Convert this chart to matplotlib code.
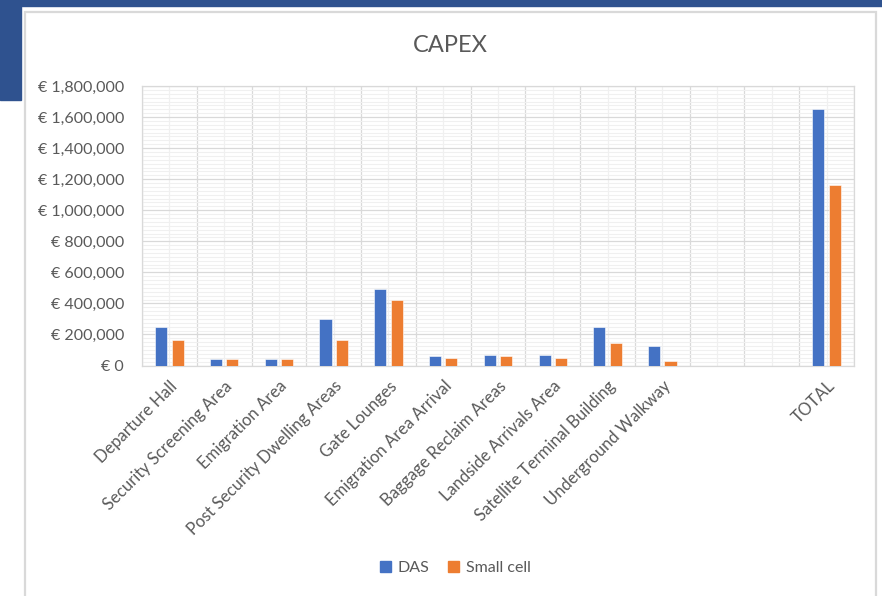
import numpy as np
import matplotlib
matplotlib.use("Agg")
import matplotlib.pyplot as plt
from matplotlib.patches import Rectangle, Patch
from matplotlib.ticker import MultipleLocator, FuncFormatter

plt.rcParams["font.family"] = ["Lato", "DejaVu Sans"]

# CAPEX per area, EUR
areas = [
    "Departure Hall", "Security Screening Area", "Emigration Area",
    "Post Security Dwelling Areas", "Gate Lounges", "Emigration Area Arrival",
    "Baggage Reclaim Areas", "Landside Arrivals Area", "Satellite Terminal Building",
    "Underground Walkway", "", "", "TOTAL",
]
das = [250000, 40000, 40000, 300000, 495000, 60000, 70000, 70000,
       250000, 125000, np.nan, np.nan, 1655000]
small_cell = [165000, 40000, 40000, 165000, 425000, 50000, 60000, 50000,
              145000, 30000, np.nan, np.nan, 1165000]

BLUE = "#4472C4"
ORANGE = "#ED7D31"
TEXT = "#595959"
GRID = "#d9d9d9"
NAVY = "#2F528F"

W, H = 882, 596
fig = plt.figure(figsize=(W / 100, H / 100), dpi=100)
fig.patch.set_facecolor("white")

# slide chrome behind the chart
fig.patches.append(Rectangle((0, 1 - 6 / H), 1, 6 / H, transform=fig.transFigure,
                             color=NAVY, zorder=0))
fig.patches.append(Rectangle((0, 1 - 100 / H), 21 / W, 100 / H, transform=fig.transFigure,
                             color=NAVY, zorder=0))
fig.patches.append(Rectangle((25 / W, -0.02), (876 - 25) / W, 1.02 - 12 / H,
                             transform=fig.transFigure, facecolor="white",
                             edgecolor=GRID, linewidth=1.6, zorder=1))

ax = fig.add_axes([142 / W, 1 - 365.5 / H, (854 - 142) / W, (365.5 - 86) / H])
ax.set_zorder(2)

x = np.arange(len(areas))
bw = 0.22
off = 0.15
ax.bar(x - off, das, bw, color=BLUE, edgecolor="white", linewidth=0.4, zorder=3)
ax.bar(x + off, small_cell, bw, color=ORANGE, edgecolor="white", linewidth=0.4, zorder=3)

ax.set_xlim(-0.5, len(areas) - 0.5)
ax.set_ylim(0, 1800000)

ax.yaxis.set_major_locator(MultipleLocator(200000))
ax.yaxis.set_minor_locator(MultipleLocator(25000))
ax.yaxis.set_major_formatter(FuncFormatter(lambda v, _: f"€ {v:,.0f}"))

ax.set_xticks(x)
ax.set_xticklabels(areas, rotation=45, ha="right", rotation_mode="anchor")
ax.set_xticks(np.arange(-0.5, len(areas)), minor=True)

ax.grid(which="major", axis="y", color=GRID, linewidth=0.9, zorder=0)
ax.grid(which="minor", axis="y", color="#f0f0f0", linewidth=0.8, zorder=0)
ax.grid(which="minor", axis="x", color=GRID, linewidth=0.9, zorder=0)
ax.grid(which="major", axis="x", color="#f0f0f0", linewidth=0.9, zorder=0)
ax.set_axisbelow(True)

ax.tick_params(which="both", length=0, colors=TEXT)
ax.tick_params(axis="y", pad=13, labelsize=11.5)
ax.tick_params(axis="x", pad=9, labelsize=12)
for s in ax.spines.values():
    s.set_color(GRID)
    s.set_linewidth(0.9)

fig.text(450 / W, 1 - 46 / H, "CAPEX", ha="center", va="center",
         fontsize=17, color=TEXT)

handles = [Patch(color=BLUE, label="DAS"), Patch(color=ORANGE, label="Small cell")]
fig.legend(handles=handles, loc="center", bbox_to_anchor=(455 / W, 1 - 568 / H),
           ncol=2, frameon=False, fontsize=11.5, labelcolor=TEXT,
           handlelength=0.7, handleheight=0.7, handletextpad=0.4, columnspacing=1.2)

fig.savefig("out.png", dpi=100)
